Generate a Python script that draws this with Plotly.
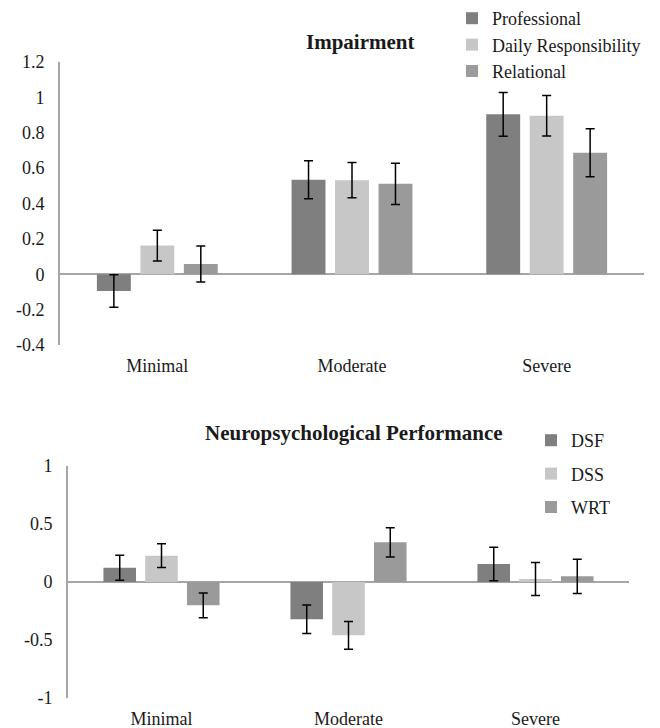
import plotly.graph_objects as go

categories = ["Minimal", "Moderate", "Severe"]

# Impairment chart
imp_series = ["Professional", "Daily Responsibility", "Relational"]
imp_professional = [-0.095, 0.534, 0.904]
imp_daily = [0.162, 0.532, 0.896]
imp_relational = [0.058, 0.511, 0.687]
imp_professional_err = [0.092, 0.107, 0.124]
imp_daily_err = [0.087, 0.100, 0.114]
imp_relational_err = [0.102, 0.116, 0.136]
imp_tickvals = [-0.4, -0.2, 0, 0.2, 0.4, 0.6, 0.8, 1, 1.2]
imp_ticktext = ["-0.4", "-0.2", "0", "0.2", "0.4", "0.6", "0.8", "1", "1.2"]

# Neuropsychological performance chart
neu_series = ["DSF", "DSS", "WRT"]
neu_dsf = [0.123, -0.322, 0.155]
neu_dss = [0.227, -0.460, 0.026]
neu_wrt = [-0.201, 0.342, 0.049]
neu_dsf_err = [0.108, 0.123, 0.145]
neu_dss_err = [0.103, 0.120, 0.143]
neu_wrt_err = [0.107, 0.126, 0.148]
neu_tickvals = [-1, -0.5, 0, 0.5, 1]
neu_ticktext = ["-1", "-0.5", "0", "0.5", "1"]

colors = ["#7f7f7f", "#c7c7c7", "#9a9a9a"]
# page body has an 8px margin; figure fills the rest of the 660x728 view
OFF = 8
W, H = 660 - OFF, 728 - OFF
FONT = "Liberation Serif, Times New Roman, serif"
AXIS_GRAY = "#a6a6a6"
TXT = "#1a1a1a"

fig = go.Figure()

imp_vals = [imp_professional, imp_daily, imp_relational]
imp_errs = [imp_professional_err, imp_daily_err, imp_relational_err]
for i, name in enumerate(imp_series):
    fig.add_trace(go.Bar(
        x=categories, y=imp_vals[i], name=name, marker_color=colors[i],
        marker_line_width=0,
        error_y=dict(type="data", array=imp_errs[i], color="black", thickness=1.5, width=4.5),
        xaxis="x", yaxis="y", legend="legend", legendgroup="t%d" % i,
    ))

neu_vals = [neu_dsf, neu_dss, neu_wrt]
neu_errs = [neu_dsf_err, neu_dss_err, neu_wrt_err]
for i, name in enumerate(neu_series):
    fig.add_trace(go.Bar(
        x=categories, y=neu_vals[i], name=name, marker_color=colors[i],
        marker_line_width=0,
        error_y=dict(type="data", array=neu_errs[i], color="black", thickness=1.5, width=4.5),
        xaxis="x2", yaxis="y2", legend="legend2", legendgroup="b%d" % i,
    ))

def px_x(p):
    # p is a screen pixel position
    return (p - OFF) / W

def px_y(p):
    return 1 - (p - OFF) / H

common_x = dict(showline=False, zeroline=False, showgrid=False, ticks="", automargin=False,
                tickfont=dict(family=FONT, size=18, color=TXT), ticklabelstandoff=8)
common_y = dict(showline=True, linecolor=AXIS_GRAY, linewidth=2, showgrid=False, automargin=False,
                zeroline=True, zerolinecolor=AXIS_GRAY, zerolinewidth=2, ticks="",
                tickfont=dict(family=FONT, size=18, color=TXT), ticklabelstandoff=10)

fig.update_layout(
    template="none",
    width=W, height=H,
    margin=dict(l=0, r=0, t=0, b=0, autoexpand=False),
    paper_bgcolor="white", plot_bgcolor="white",
    barmode="group", bargap=0.33, bargroupgap=0.22,
    font=dict(family=FONT, size=18, color=TXT),
    xaxis=dict(domain=[px_x(60), px_x(644)], anchor="y", **common_x),
    yaxis=dict(domain=[px_y(345), px_y(62)], anchor="x", range=[-0.4, 1.2],
               tickvals=imp_tickvals, ticktext=imp_ticktext, **common_y),
    xaxis2=dict(domain=[px_x(68), px_x(629)], anchor="y2", **common_x),
    yaxis2=dict(domain=[px_y(698), px_y(466)], anchor="x2", range=[-1, 1],
                tickvals=neu_tickvals, ticktext=neu_ticktext, **common_y),
    legend=dict(x=px_x(452), y=px_y(0), xanchor="left", yanchor="top",
                font=dict(family=FONT, size=18, color=TXT), tracegroupgap=0,
                bgcolor="rgba(0,0,0,0)", itemclick=False),
    legend2=dict(x=px_x(531), y=px_y(422), xanchor="left", yanchor="top",
                 font=dict(family=FONT, size=18, color=TXT), tracegroupgap=7,
                 bgcolor="rgba(0,0,0,0)", itemclick=False),
    annotations=[
        dict(text="<b>Impairment</b>", x=px_x(360), y=px_y(42), xref="paper", yref="paper",
             xanchor="center", yanchor="middle",
             showarrow=False, font=dict(family=FONT, size=21, color=TXT)),
        dict(text="<b>Neuropsychological Performance</b>", x=px_x(354), y=px_y(433),
             xref="paper", yref="paper", xanchor="center", yanchor="middle", showarrow=False,
             font=dict(family=FONT, size=21, color=TXT)),
    ],
)

fig.write_html("out.html")
